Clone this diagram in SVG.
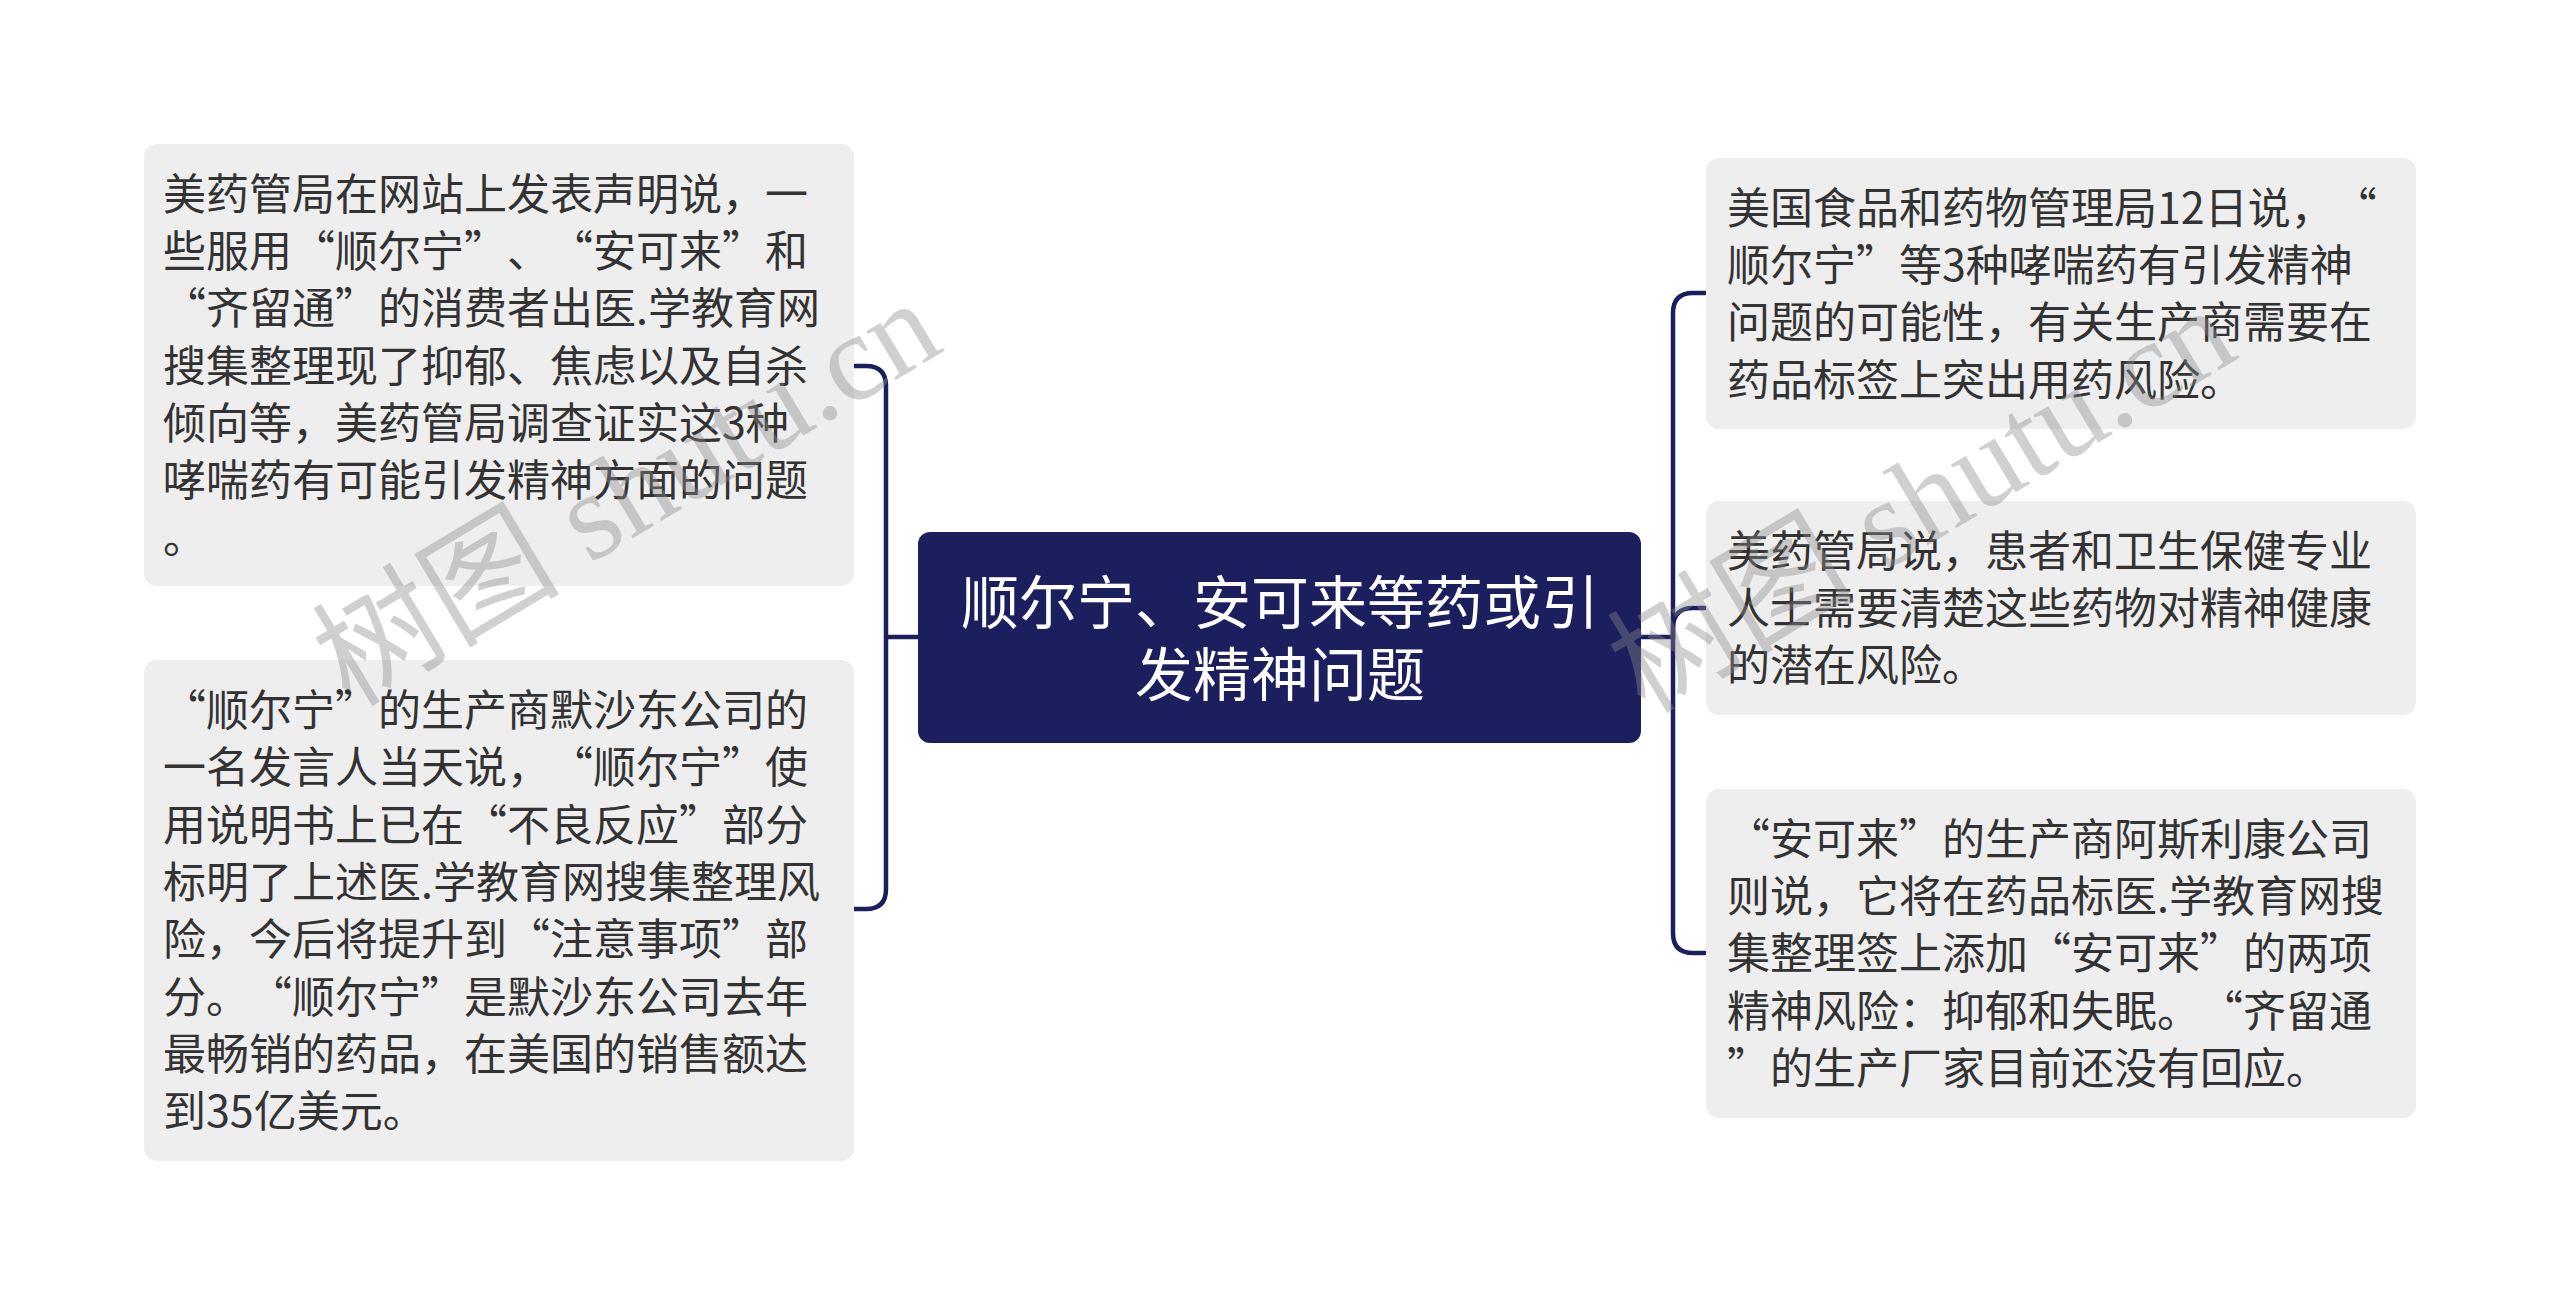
<svg xmlns="http://www.w3.org/2000/svg" width="2560" height="1304" viewBox="0 0 2560 1304">
<style>
.box{fill:#eeeeee;}
.txt{font-family:"Noto Sans CJK SC","Noto Sans",sans-serif;font-size:43px;fill:#333333;text-spacing-trim:space-all;font-feature-settings:"chws" 0,"halt" 0;}
.ctxt{font-family:"Noto Sans CJK SC","Noto Sans",sans-serif;font-size:58px;fill:#ffffff;text-anchor:middle;text-spacing-trim:space-all;}
.conn{fill:none;stroke:#1b1f5e;stroke-width:4.5;stroke-linecap:round;}
.wm{font-family:"Liberation Serif","Noto Sans CJK SC",serif;font-size:124px;fill:#8a8a8a;fill-opacity:0.4;}
</style>
<rect width="2560" height="1304" fill="#ffffff"/>
<g id="connectors">
<path class="conn" d="M918,637 H886"/>
<path class="conn" d="M854,366 H866 Q886,366 886,386 V889 Q886,909 866,909 H854"/>
<path class="conn" d="M1641,637 H1673"/>
<path class="conn" d="M1705,293 H1693 Q1673,293 1673,313 V933 Q1673,953 1693,953 H1705"/>
<path class="conn" d="M1673,640 V628 Q1673,608 1693,608 H1705"/>
</g>
<g id="center">
<rect x="918" y="532" width="723" height="211" rx="12" fill="#1b1f5e"/>
<text class="ctxt"><tspan x="1280" y="624">顺尔宁、安可来等药或引</tspan><tspan x="1280" y="696">发精神问题</tspan></text>
</g>
<g id="left1">
<rect class="box" x="144" y="144" width="710" height="442" rx="13"/>
<text class="txt"><tspan x="163" y="210">美药管局在网站上发表声明说，一</tspan><tspan x="163" y="267">些服用“顺尔宁”、“安可来”和</tspan><tspan x="163" y="324">“齐留通”的消费者出医.学教育网</tspan><tspan x="163" y="382">搜集整理现了抑郁、焦虑以及自杀</tspan><tspan x="163" y="439">倾向等，美药管局调查证实这3种</tspan><tspan x="163" y="496">哮喘药有可能引发精神方面的问题</tspan><tspan x="163" y="553">。</tspan></text>
</g>
<g id="left2">
<rect class="box" x="144" y="660" width="710" height="501" rx="13"/>
<text class="txt"><tspan x="163" y="726">“顺尔宁”的生产商默沙东公司的</tspan><tspan x="163" y="783">一名发言人当天说，“顺尔宁”使</tspan><tspan x="163" y="841">用说明书上已在“不良反应”部分</tspan><tspan x="163" y="898">标明了上述医.学教育网搜集整理风</tspan><tspan x="163" y="955">险，今后将提升到“注意事项”部</tspan><tspan x="163" y="1013">分。“顺尔宁”是默沙东公司去年</tspan><tspan x="163" y="1070">最畅销的药品，在美国的销售额达</tspan><tspan x="163" y="1127">到35亿美元。</tspan></text>
</g>
<g id="right1">
<rect class="box" x="1706" y="158" width="710" height="271" rx="13"/>
<text class="txt"><tspan x="1727" y="224">美国食品和药物管理局12日说，“</tspan><tspan x="1727" y="281">顺尔宁”等3种哮喘药有引发精神</tspan><tspan x="1727" y="338">问题的可能性，有关生产商需要在</tspan><tspan x="1727" y="396">药品标签上突出用药风险。</tspan></text>
</g>
<g id="right2">
<rect class="box" x="1706" y="501" width="710" height="214" rx="13"/>
<text class="txt"><tspan x="1727" y="567">美药管局说，患者和卫生保健专业</tspan><tspan x="1727" y="624">人士需要清楚这些药物对精神健康</tspan><tspan x="1727" y="681">的潜在风险。</tspan></text>
</g>
<g id="right3">
<rect class="box" x="1706" y="789" width="710" height="329" rx="13"/>
<text class="txt"><tspan x="1727" y="855">“安可来”的生产商阿斯利康公司</tspan><tspan x="1727" y="912">则说，它将在药品标医.学教育网搜</tspan><tspan x="1727" y="969">集整理签上添加“安可来”的两项</tspan><tspan x="1727" y="1027">精神风险：抑郁和失眠。“齐留通</tspan><tspan x="1727" y="1084">”的生产厂家目前还没有回应。</tspan></text>
</g>
<g id="watermark">
<text class="wm" transform="translate(350,708) rotate(-31)">树图 shutu.cn</text>
<text class="wm" transform="translate(1645,715) rotate(-31)">树图 shutu.cn</text>
</g>
</svg>
